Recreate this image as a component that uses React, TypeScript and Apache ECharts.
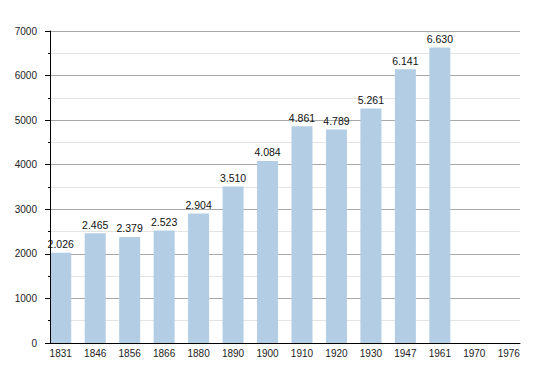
import React, { useEffect, useRef } from "react";
import * as echarts from "echarts";

const years = ["1831", "1846", "1856", "1866", "1880", "1890", "1900", "1910", "1920", "1930", "1947", "1961", "1970", "1976"];
const population = [2026, 2465, 2379, 2523, 2904, 3510, 4084, 4861, 4789, 5261, 6141, 6630, null, null];
const yMin = 0;
const yMax = 7000;
const yStep = 1000;

const fmt = (v: number) => String(v).replace(/\B(?=(\d{3})+(?!\d))/g, ".");

export default function App() {
  const ref = useRef<HTMLDivElement>(null);
  useEffect(() => {
    const chart = echarts.init(ref.current!, undefined, { renderer: "svg" });
    const font = "Liberation Sans, Arial, sans-serif";
    chart.setOption({
      animation: false,
      grid: [
        { left: 43.5, right: 24, top: 31, bottom: 30 },
        { left: 50, right: 30, top: 31, bottom: 30 },
      ],
      xAxis: [
        {
          type: "category",
          gridIndex: 0,
          data: years,
          axisLine: { show: false },
          axisTick: { show: false },
          axisLabel: { color: "#222", fontSize: 10, fontFamily: font, margin: 5, interval: 0 },
        },
        {
          type: "value",
          gridIndex: 1,
          position: "bottom",
          min: 0,
          max: 1,
          z: 5,
          axisLine: { show: true, onZero: false, lineStyle: { color: "#000", width: 1 } },
          axisTick: { show: false },
          axisLabel: { show: false },
          splitLine: { show: false },
        },
      ],
      yAxis: [
        { type: "value", gridIndex: 0, min: yMin, max: yMax, show: false },
        {
          type: "value",
          gridIndex: 1,
          position: "left",
          min: yMin,
          max: yMax,
          interval: yStep,
          axisLine: { show: false, onZero: false },
          axisTick: { show: false },
          axisLabel: { show: false },
          splitLine: { show: true, lineStyle: { color: "#a8a8a8", width: 1 } },
          minorTick: { show: false, splitNumber: 2 },
          minorSplitLine: { show: true, lineStyle: { color: "#e4e4e4", width: 1 } },
        },
        {
          type: "value",
          gridIndex: 1,
          position: "left",
          offset: 0,
          min: yMin,
          max: yMax,
          interval: yStep,
          z: 5,
          axisLine: { show: true, onZero: false, lineStyle: { color: "#000", width: 1 } },
          axisTick: { show: true, length: 5, lineStyle: { color: "#000" } },
          minorTick: { show: true, splitNumber: 2, length: 2, lineStyle: { color: "#000" } },
          axisLabel: { color: "#222", fontSize: 10, fontFamily: font, margin: 13, formatter: (v: number) => String(v) },
          splitLine: { show: false },
        },
      ],
      series: [
        {
          type: "bar",
          xAxisIndex: 0,
          yAxisIndex: 0,
          data: population,
          barWidth: 21,
          itemStyle: { color: "#b3cde4" },
          label: {
            show: true,
            position: "top",
            distance: 3,
            color: "#111",
            fontSize: 10.5,
            fontFamily: font,
            formatter: (p: any) => fmt(p.value),
          },
        },
      ],
    });
    return () => chart.dispose();
  }, []);
  return <div ref={ref} style={{ position: "absolute", left: 0, top: 0, width: 550, height: 373 }} />;
}
